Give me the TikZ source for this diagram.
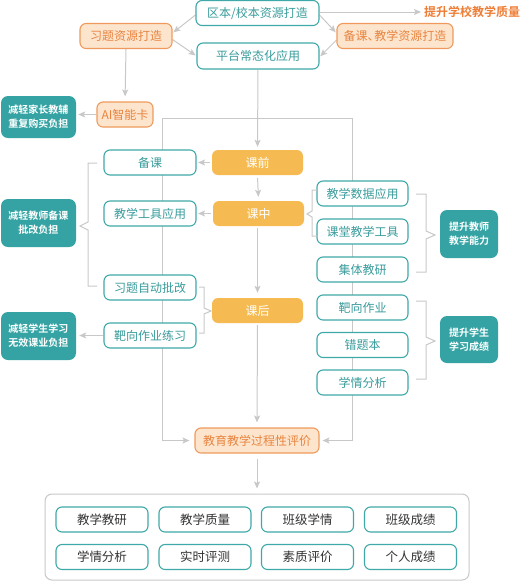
\documentclass[tikz,border=0pt]{standalone}
\usepackage{fontspec}
\setmainfont{Noto Sans CJK SC}[BoldFont={Noto Sans CJK SC Bold}]
\usetikzlibrary{arrows.meta,calc,backgrounds}
\definecolor{tealline}{HTML}{3FA8A8}
\definecolor{tealtext}{HTML}{3A9C9C}
\definecolor{tealfill}{HTML}{35A3A3}
\definecolor{kfill}{HTML}{F5BB52}
\definecolor{lorange}{HTML}{FDE5CD}
\definecolor{oline}{HTML}{EF9A5C}
\definecolor{otext}{HTML}{E8843F}
\definecolor{titleor}{HTML}{EE7E36}
\definecolor{lgray}{HTML}{C8C8C8}
\definecolor{dtext}{HTML}{333333}
\begin{document}
\begin{tikzpicture}[x=1pt,y=-1pt,
  box/.style={draw=tealline, line width=1.1pt, rounded corners=6pt, fill=white, text=tealtext,
    font=\fontsize{12}{14}\selectfont, minimum height=25pt, minimum width=92pt, inner sep=0pt},
  obox/.style={box, draw=oline, fill=lorange, text=otext},
  kbox/.style={rounded corners=6pt, fill=kfill, text=white, font=\fontsize{12}{14}\selectfont,
    minimum height=25pt, minimum width=91pt, inner sep=0pt},
  tbox/.style={rounded corners=7pt, fill=tealfill, text=white, font=\fontsize{10}{14}\selectfont\bfseries,
    align=center, minimum width=75pt, minimum height=48pt, inner sep=0pt},
  bbox/.style={box, text=dtext, font=\fontsize{12.5}{14}\selectfont},
  gl/.style={draw=lgray, line width=1pt},
  arr/.style={gl, -{Stealth[length=7pt,width=6pt,inset=1.5pt]}},
  brk/.style={draw=lgray, line width=1pt}
]
\useasboundingbox (0,0) rectangle (521,582);

% top
\node[box, minimum width=123pt] (qb) at (257.5,13) {区本/校本资源打造};
\node[text=titleor, font=\fontsize{12}{14}\selectfont\bfseries, anchor=west, inner sep=0pt] (tsq) at (424,12) {提升学校教学质量};
\node[obox, minimum width=92pt] (xt) at (126,36) {习题资源打造};
\node[obox, minimum width=116pt] (bk) at (395,36) {备课、\hspace{-0.45em}教学资源打造};
\node[box, minimum width=122pt, minimum height=26pt] (pt) at (258,56) {平台常态化应用};
\node[obox, minimum width=56pt] (ai) at (125,114.5) {AI智能卡};
\node[tbox, minimum height=42pt] (jz) at (38.5,117) {减轻家长教辅\\重复购买负担};

% middle
\node[kbox] (kq) at (257.5,162.5) {课前};
\node[kbox] (kz) at (258.5,213.5) {课中};
\node[kbox] (kh) at (257.5,310.5) {课后};

\node[box] (bkk) at (150,162.5) {备课};
\node[box] (jxgj) at (150,213.5) {教学工具应用};
\node[box] (xtzd) at (150,287.5) {习题自动批改};
\node[box] (bxlx) at (150,335.5) {靶向作业练习};

\node[box, minimum width=91pt] (sjyy) at (362.5,193.5) {教学数据应用};
\node[box, minimum width=91pt] (ktgj) at (362.5,231.5) {课堂教学工具};
\node[box, minimum width=91pt] (jtjy) at (362.5,269.5) {集体教研};
\node[box, minimum width=91pt] (bxzy) at (362.5,307.5) {靶向作业};
\node[box, minimum width=91pt] (ctb) at (362.5,345) {错题本};
\node[box, minimum width=91pt] (xqfx) at (362.5,382.5) {学情分析};

\node[tbox] (jsbk) at (38.5,223) {减轻教师备课\\批改负担};
\node[tbox] (jxxs) at (38.5,336) {减轻学生学习\\无效课业负担};
\node[tbox, minimum width=58pt] (tsjs) at (469,234) {提升教师\\教学能力};
\node[tbox, minimum width=58pt, minimum height=47pt] (tsxs) at (469,339.5) {提升学生\\学习成绩};

\node[obox, minimum width=124pt] (jy) at (257,440.5) {教育教学过程性评价};

% bottom
\node[draw=lgray, line width=1pt, rounded corners=7pt, minimum width=424pt, minimum height=86pt, inner sep=0pt] (cont) at (257,537) {};
\node[bbox] (b1) at (102,519.5) {教学教研};
\node[bbox] (b2) at (205,519.5) {教学质量};
\node[bbox] (b3) at (307.5,519.5) {班级学情};
\node[bbox] (b4) at (410.5,519.5) {班级成绩};
\node[bbox] (b5) at (102,557) {学情分析};
\node[bbox] (b6) at (205,557) {实时评测};
\node[bbox] (b7) at (307.5,557) {素质评价};
\node[bbox] (b8) at (410.5,557) {个人成绩};

\coordinate (fl) at (162,118);
\coordinate (fr) at (352,118);
\coordinate (qbe) at ($(qb.east)+(0,-1)$);

\begin{scope}[on background layer]
  \draw[arr, shorten >=3pt] (qbe) -- (qbe -| tsq.west);
  \draw[arr, shorten >=1pt] ($(qb.west)+(0,2)$) -- ($(xt.east)+(0,-3)$);
  \draw[arr, shorten >=1pt] ($(xt.east)+(0,3.5)$) -- (pt.west);
  \draw[arr, shorten >=1pt] ($(qb.east)+(0,2)$) -- ($(bk.west)+(0,-3)$);
  \draw[arr, shorten >=1pt] ($(bk.west)+(0,4)$) -- ($(pt.east)+(0,1)$);
  \draw[arr, shorten >=3pt] (pt.south) -- (kq.north);
  \draw[arr, shorten >=5pt] (xt.south) -- (ai.north);
  \draw[arr, shorten >=2pt] (ai.west) -- (ai.west -| jz.east);
  \draw[gl] (fl) -- (fr);
  \draw[arr, shorten >=5pt] (fl) |- (jy.west);
  \draw[arr, shorten >=3pt] (fr) |- (jy.east);
  \draw[arr, shorten <=2pt, shorten >=1.5pt] (kq.west) -- (bkk.east);
  \draw[arr, shorten <=2pt, shorten >=1.5pt] (kz.west) -- (jxgj.east);
  \draw[arr, shorten <=3pt, shorten >=4pt] (kq.south) -- (kz.north);
  \draw[arr, shorten <=2pt, shorten >=5pt] (kz.south -| kh.north) -- (kh.north);
  \draw[arr, shorten <=2pt, shorten >=5pt] (kh.south) -- (jy.north);
  \draw[arr, shorten <=5pt, shorten >=5pt] (jy.south) -- (jy.south |- cont.north);
  \draw[arr, shorten >=3pt] (bxlx.west) -- (bxlx.west -| jxxs.east);
\end{scope}

% brackets
\draw[brk] (97,163) -- (88,163) -- (88,222) -- (80,226) -- (88,230) -- (88,286) -- (97,286);
\draw[brk] (317,190) -- (312,190) -- (312,211) -- (307,214) -- (312,217) -- (312,236) -- (317,236);
\draw[brk] (416,194) -- (426,194) -- (426,231) -- (435,235) -- (426,239) -- (426,272) -- (416,272);
\draw[brk] (416,301) -- (426,301) -- (426,337) -- (435,341) -- (426,345) -- (426,379) -- (416,379);
\draw[brk] (199,287) -- (204,287) -- (204,308) -- (211,311) -- (204,314) -- (204,333) -- (199,333);
\end{tikzpicture}
\end{document}
